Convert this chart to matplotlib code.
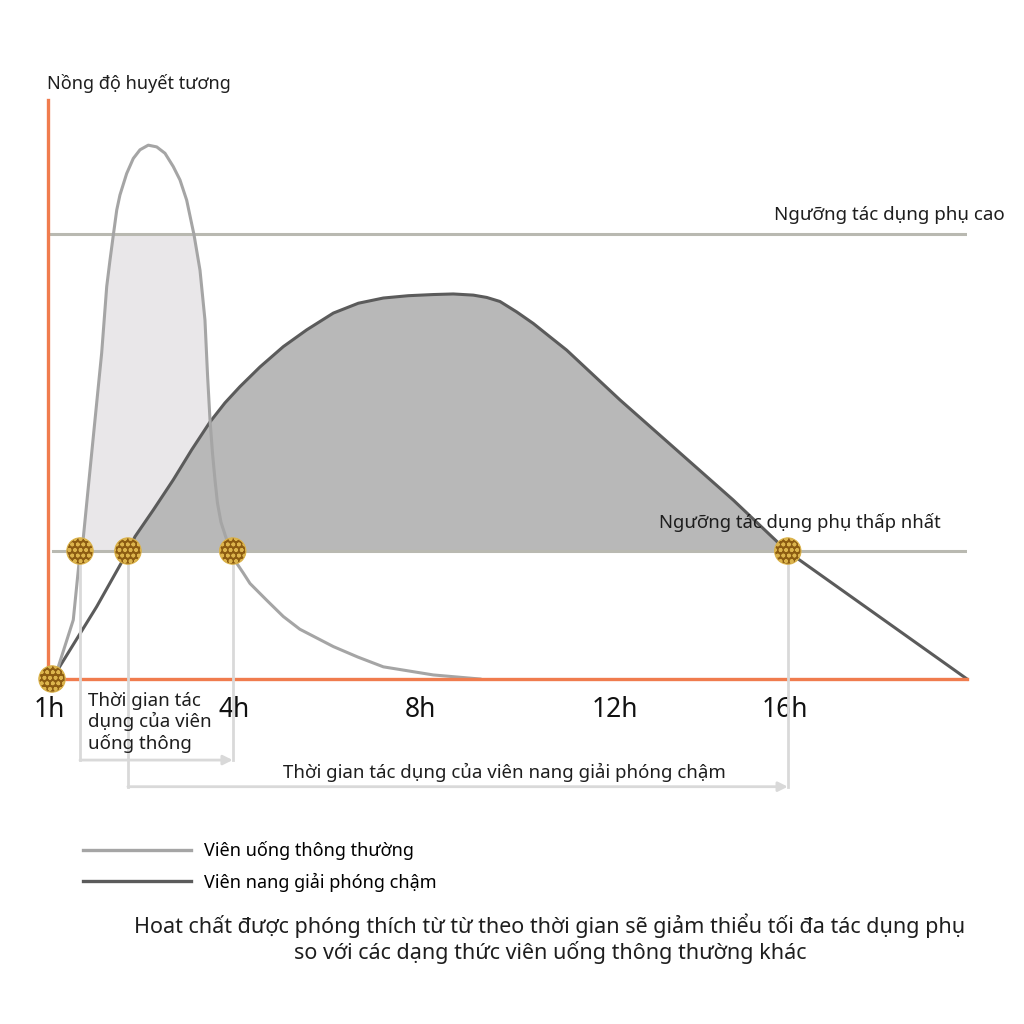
import numpy as np
import matplotlib.pyplot as plt

plt.rcParams['font.family'] = ['Noto Sans', 'DejaVu Sans']
plt.rcParams['hatch.linewidth'] = 1.1

# truc hoanh: don vi tuong doi (0..100), truc tung: nong do tuong doi (0..100)
tick_pos = [0.2, 20.3, 40.5, 61.7, 80.2]
tick_labels = ['1h', '4h', '8h', '12h', '16h']

# Vien uong thong thuong
fast_x = [0.44, 1.12, 2.75, 3.48, 3.78, 4.39, 5.11, 5.84, 6.39, 6.75, 7.11, 7.48,
          7.83, 8.56, 9.28, 10.01, 10.91, 11.83, 12.73, 13.63, 14.36, 15.09, 15.89,
          16.54, 17.08, 17.36, 17.63, 17.9, 18.17, 18.44, 18.82, 19.37, 19.99,
          20.53, 21.25, 21.98, 23.8, 25.6, 27.4, 31.05, 33.7, 36.49, 41.93, 47.0]
fast_y = [0.0, 2.1, 10.2, 21.7, 23.4, 33.2, 44.7, 56.3, 67.8, 72.4, 76.7, 81.0,
          83.6, 87.3, 89.9, 91.4, 92.2, 91.9, 90.8, 88.5, 86.2, 82.7, 76.7,
          70.6, 62.0, 52.5, 44.7, 39.0, 34.4, 30.4, 27.1, 24.4, 22.3,
          20.0, 18.3, 16.5, 13.6, 10.8, 8.6, 5.6, 3.8, 2.1, 0.7, 0.0]

# Vien nang giai phong cham
slow_x = [0.44, 5.3, 8.56, 9.47, 11.46, 13.63, 15.64, 17.63, 19.26, 20.89, 23.07,
          25.6, 28.15, 31.05, 33.77, 36.49, 39.21, 41.93, 44.1, 46.28, 47.74, 49.18,
          51.0, 52.81, 54.62, 56.44, 59.34, 62.24, 74.57, 80.41, 100.0]
slow_y = [0.0, 12.5, 21.7, 24.6, 29.2, 34.4, 39.6, 44.4, 47.7, 50.5, 53.9,
          57.4, 60.3, 63.2, 64.9, 65.8, 66.2, 66.4, 66.5, 66.3, 65.9, 65.2,
          63.4, 61.4, 59.1, 56.8, 52.5, 48.2, 30.9, 22.1, 0.0]

high_level = 76.9
low_level = 22.1

# diem cat nguong thap nhat
cross_x = [0.44, 3.48, 8.7, 20.1, 80.5]
cross_y = [0.0, 22.1, 22.1, 22.1, 22.1]

fast_start, fast_end = 3.48, 20.1
slow_start, slow_end = 8.7, 80.5

orange = '#f07c4e'
c_fast = '#a5a5a5'
c_slow = '#5b5b5b'
c_level = '#b9b9b1'
c_conn = '#d9d9d9'
c_text = '#1e1e1e'

fig = plt.figure(figsize=(10.24, 10.24), dpi=100)
ax = fig.add_axes([48 / 1024, (1024 - 679) / 1024, 919 / 1024, 579 / 1024])
ax.set_xlim(0, 100)
ax.set_ylim(0, 100)

fx = np.array(fast_x)
fy = np.array(fast_y)
sx = np.array(slow_x)
sy = np.array(slow_y)

# vung tac dung
ax.fill_between(fx, low_level, np.minimum(fy, high_level), where=fy >= low_level,
                interpolate=True, color='#e9e7e9', lw=0, zorder=1)
ax.fill_between(sx, low_level, sy, where=sy >= low_level,
                interpolate=True, color='#b8b8b8', lw=0, zorder=1.2)

# nguong
ax.axhline(high_level, color=c_level, lw=2.2, zorder=1.5)
ax.axhline(low_level, xmin=0.005, color=c_level, lw=2.2, zorder=1.5)

ax.plot(sx, sy, color=c_slow, lw=2.2, zorder=2.2, clip_on=False,
        solid_joinstyle='round')
ax.plot(fx, fy, color=c_fast, lw=2.2, zorder=2.3, clip_on=False,
        solid_joinstyle='round')

# khung truc
for s in ['top', 'right']:
    ax.spines[s].set_visible(False)
for s in ['left', 'bottom']:
    ax.spines[s].set_color(orange)
    ax.spines[s].set_linewidth(2.4)
ax.set_yticks([])
ax.set_xticks(tick_pos, tick_labels)
ax.tick_params(axis='x', length=0, pad=12, labelsize=19, labelcolor='#111111')

# mui ten thoi gian tac dung
y_fast_arrow = -14.0
y_slow_arrow = -18.6
for x0, x1, ya in [(fast_start, fast_end, y_fast_arrow), (slow_start, slow_end, y_slow_arrow)]:
    ax.plot([x0, x0], [low_level, ya], color=c_conn, lw=2, zorder=3, clip_on=False)
    ax.plot([x1, x1], [low_level, ya], color=c_conn, lw=2, zorder=3, clip_on=False)
    ax.annotate('', xy=(x1, ya), xytext=(x0, ya), annotation_clip=False,
                arrowprops=dict(arrowstyle='-|>', color=c_conn, lw=2,
                                shrinkA=0, shrinkB=0, mutation_scale=14), zorder=3)

# diem cat
ax.scatter(cross_x, cross_y, s=360, color='#8c5c12', edgecolor='#dcb44c',
           hatch='ooo', linewidth=0.8, zorder=6, clip_on=False)

# chu thich
ax.text(-0.1, 102.8, 'Nồng độ huyết tương', fontsize=13, ha='left', va='center',
        color=c_text, clip_on=False)
ax.text(104.1, 80.1, 'Ngưỡng tác dụng phụ cao', fontsize=13.5, ha='right', va='center',
        color=c_text, clip_on=False)
ax.text(97.1, 27.1, 'Ngưỡng tác dụng phụ thấp nhất', fontsize=13.3, ha='right', va='center',
        color=c_text, clip_on=False)
ax.text(4.35, -2.2, 'Thời gian tác\ndụng của viên\nuống thông', fontsize=13.5,
        ha='left', va='top', linespacing=1.17, color=c_text, clip_on=False)
ax.text(49.7, -16.1, 'Thời gian tác dụng của viên nang giải phóng chậm', fontsize=13.4,
        ha='center', va='center', color=c_text, clip_on=False)

ax.plot([], [], color=c_fast, lw=2.4, label='Viên uống thông thường')
ax.plot([], [], color=c_slow, lw=2.4, label='Viên nang giải phóng chậm')
fig.legend(loc='upper left', bbox_to_anchor=(83 / 1024, 1 - 841 / 1024), frameon=False,
           fontsize=13, handlelength=6.0, handletextpad=0.7, labelspacing=0.7,
           borderpad=0, borderaxespad=0)

fig.text(550 / 1024, 1 - 926 / 1024,
         'Hoat chất được phóng thích từ từ theo thời gian sẽ giảm thiểu tối đa tác dụng phụ',
         fontsize=15.5, ha='center', va='center', color=c_text)
fig.text(550 / 1024, 1 - 952 / 1024,
         'so với các dạng thức viên uống thông thường khác',
         fontsize=15.5, ha='center', va='center', color=c_text)

fig.savefig('out.png', dpi=100)
